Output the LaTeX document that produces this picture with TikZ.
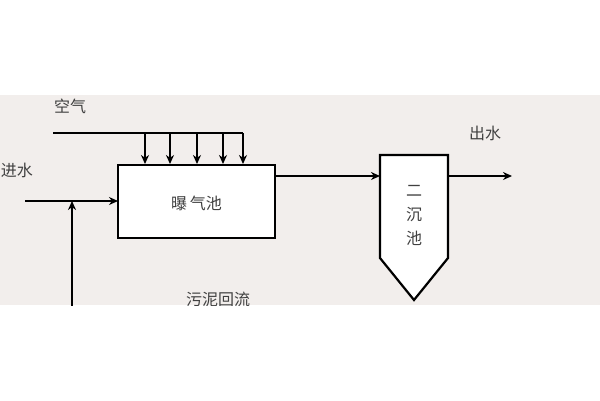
\documentclass[tikz,border=0pt]{standalone}
\usepackage{fontspec}
\newfontfamily\cjk{Noto Sans CJK SC}
\usetikzlibrary{arrows.meta}
\definecolor{bandgray}{HTML}{F2EEEC}
\begin{document}
\begin{tikzpicture}[x=1pt,y=-1pt]
\tikzstyle{every node}+=[inner sep=0pt,font=\cjk\fontsize{16}{18}\selectfont,text=black!75]
\tikzstyle{pipe}=[line width=2.2pt,-{Stealth[length=9pt,width=8pt]}]
\useasboundingbox (0,0) rectangle (600,400);
\fill[bandgray] (0,95) rectangle (600,305);
\begin{scope}
\clip (0,95) rectangle (600,305);
\draw (70,106) node (air) {空气};
\draw (17,170) node (inlet) {进水};
\draw (485,133) node (outlbl) {出水};
\draw (218,299) node (ret) {污泥回流};
\draw [line width=2.2pt,fill=white] (118,165) rectangle (275,238);
\node (tank) at (196.5,203) {曝\,气池};
\draw [line width=2.2pt,fill=white] (380,176) -- (380,155) -- (448,155) -- (448,258) -- (414,300) -- (380,258) -- cycle;
\node (clar) at (414,215) [align=center] {二\\[6pt]沉\\[6pt]池};
\coordinate (aira) at (53,133);
\coordinate (airb) at (243,133);
\draw [line width=2.2pt] (aira) -- (airb);
\foreach \x in {145,170,197,223,243}
  \draw [pipe] (\x,133) -- (\x,164);
\coordinate (ina) at (25,201);
\coordinate (inb) at (118,201);
\draw [pipe] (ina) -- (inb);
\coordinate (reta) at (72,310);
\coordinate (retb) at (72,201);
\draw [pipe] (reta) -- (retb);
\coordinate (oa) at (275,176);
\coordinate (ob) at (380,176);
\draw [pipe] (oa) -- (ob);
\coordinate (ea) at (448,176);
\coordinate (eb) at (512,176);
\draw [pipe] (ea) -- (eb);
\end{scope}
\end{tikzpicture}
\end{document}
